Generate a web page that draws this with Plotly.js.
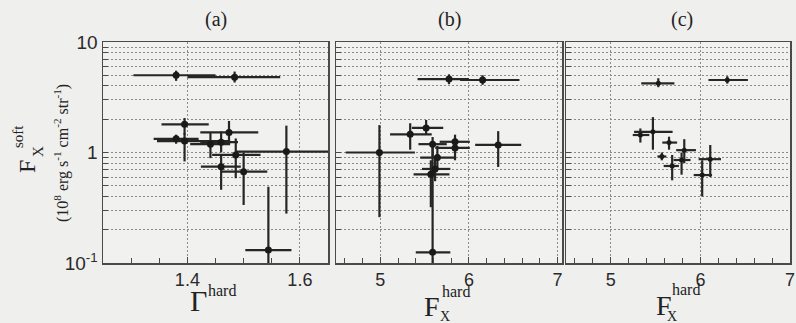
<!DOCTYPE html>
<html>
<head>
<meta charset="utf-8">
<script src="https://cdn.plot.ly/plotly-3.0.1.min.js"></script>
<style>html,body{margin:0;padding:0;background:#efefed;}#chart{width:796px;height:323px;}</style>
</head>
<body>
<div id="chart"></div>
<script>
// ---- Panel (a): Gamma_hard vs F_X^soft ----
const aGamma   = [1.380, 1.484, 1.395, 1.380, 1.395, 1.441, 1.460, 1.474, 1.486, 1.460, 1.500, 1.576, 1.544];
const aGammaLo = [1.304, 1.400, 1.354, 1.340, 1.346, 1.405, 1.423, 1.423, 1.444, 1.424, 1.461, 1.485, 1.503];
const aGammaHi = [1.450, 1.565, 1.438, 1.420, 1.476, 1.476, 1.490, 1.526, 1.530, 1.495, 1.542, 1.700, 1.585];
const aSoft    = [5.00, 4.80, 1.80, 1.33, 1.27, 1.19, 1.24, 1.52, 0.95, 0.745, 0.67, 1.02, 0.131];
const aSoftLo  = [4.45, 4.30, 1.45, 1.20, 0.83, 0.89, 1.00, 1.20, 0.585, 0.46, 0.335, 0.28, 0.05];
const aSoftHi  = [5.50, 5.40, 2.05, 1.45, 1.50, 1.50, 1.55, 1.93, 1.34, 0.95, 1.00, 1.75, 0.49];

// ---- Panel (b): F_X^hard vs F_X^soft ----
const bHard    = [5.775, 6.154, 4.99, 5.337, 5.517, 5.59, 5.843, 5.843, 5.644, 5.618, 5.57, 6.33, 5.59];
const bHardLo  = [5.42, 5.90, 4.61, 5.11, 5.356, 5.43, 5.67, 5.62, 5.45, 5.47, 5.375, 6.07, 5.40];
const bHardHi  = [6.00, 6.57, 5.39, 5.58, 5.71, 5.75, 6.01, 6.01, 5.84, 5.79, 5.78, 6.59, 5.79];
const bSoft    = [4.62, 4.53, 1.00, 1.46, 1.67, 1.19, 1.25, 1.10, 0.90, 0.71, 0.635, 1.17, 0.125];
const bSoftLo  = [4.15, 4.10, 0.26, 1.06, 1.45, 0.90, 1.10, 0.85, 0.70, 0.55, 0.32, 0.74, 0.05];
const bSoftHi  = [5.10, 5.00, 1.77, 1.84, 1.97, 1.38, 1.45, 1.25, 1.15, 0.90, 0.85, 1.56, 1.20];

// ---- Panel (c): F_X^hard vs F_X^soft ----
const cHard    = [5.53, 6.30, 5.33, 5.47, 5.65, 5.57, 5.82, 5.79, 5.685, 6.11, 6.02];
const cHardLo  = [5.34, 6.09, 5.245, 5.26, 5.575, 5.52, 5.73, 5.70, 5.59, 5.98, 5.925];
const cHardHi  = [5.71, 6.53, 5.43, 5.69, 5.74, 5.62, 5.95, 5.89, 5.76, 6.23, 6.13];
const cSoft    = [4.23, 4.53, 1.44, 1.54, 1.23, 0.92, 1.05, 0.855, 0.755, 0.87, 0.625];
const cSoftLo  = [3.90, 4.20, 1.23, 1.06, 1.06, 0.85, 0.80, 0.63, 0.56, 0.60, 0.40];
const cSoftHi  = [4.70, 4.90, 1.65, 2.09, 1.39, 1.00, 1.32, 1.00, 0.95, 1.17, 0.85];

// ---- axis tick labels ----
const yTickVals = [0.1,0.2,0.3,0.4,0.5,0.6,0.7,0.8,0.9,1,2,3,4,5,6,7,8,9,10];
const yTickText = yTickVals.map(v => v === 0.1 ? "10<sup>-1</sup>" : v === 1 ? "1" : v === 10 ? "10" : "");
const aTickVals = [1.4, 1.6];
const aTickText = ["1.4", "1.6"];
const fTickVals = [5, 6, 7];
const fTickText = ["5", "6", "7"];

const W = 796, H = 323;
const px = x => x / W, py = y => 1 - y / H;

const barColor = '#262626';
function trace(x, xlo, xhi, y, ylo, yhi, xa, ya, msize) {
  return {
    type: 'scatter', mode: 'markers', xaxis: xa, yaxis: ya,
    x: x, y: y,
    marker: {color: '#1a1a1a', size: msize},
    error_x: {type: 'data', symmetric: false,
      array: xhi.map((h, i) => h - x[i]), arrayminus: xlo.map((l, i) => x[i] - l),
      thickness: 2.2, width: 0, color: barColor},
    error_y: {type: 'data', symmetric: false,
      array: yhi.map((h, i) => h - y[i]), arrayminus: ylo.map((l, i) => y[i] - l),
      thickness: 2.2, width: 0, color: barColor},
    cliponaxis: true, hoverinfo: 'skip', showlegend: false
  };
}

const data = [
  trace(aGamma, aGammaLo, aGammaHi, aSoft, aSoftLo, aSoftHi, 'x', 'y', 7),
  trace(bHard, bHardLo, bHardHi, bSoft, bSoftLo, bSoftHi, 'x2', 'y2', 7),
  trace(cHard, cHardLo, cHardHi, cSoft, cSoftLo, cSoftHi, 'x3', 'y3', 5)
];

const yDom = [py(263), py(42)];
const lineC = '#4a4a4a', gridC = '#8a8a8a';
const tickFont = {family: 'Liberation Sans, Arial, sans-serif', size: 18, color: '#2a2a2a'};

function xaxis(dom, range, tv, tt, minorDtick, minorTick0) {
  return {
    domain: dom, range: range,
    tickmode: 'array', tickvals: tv, ticktext: tt,
    ticks: 'inside', ticklen: 6, tickwidth: 1, tickcolor: lineC,
    minor: {dtick: minorDtick, tick0: minorTick0, ticks: 'inside', ticklen: 5, tickwidth: 1, tickcolor: lineC, showgrid: false},
    showgrid: true, gridcolor: gridC, griddash: '2px,2px', gridwidth: 1,
    showline: true, linecolor: lineC, linewidth: 1.5, mirror: true,
    zeroline: false, tickfont: tickFont, fixedrange: true
  };
}
function yaxis(showLabels) {
  return {
    type: 'log', range: [-1, 1], domain: yDom,
    tickmode: 'array', tickvals: yTickVals, ticktext: yTickText,
    showticklabels: showLabels,
    ticks: 'inside', ticklen: 5, tickwidth: 1, tickcolor: lineC,
    showgrid: true, gridcolor: gridC, griddash: '2px,2px', gridwidth: 1,
    showline: true, linecolor: lineC, linewidth: 1.5, mirror: true,
    zeroline: false, tickfont: {family: 'Liberation Sans, Arial, sans-serif', size: 19, color: '#2a2a2a'},
    fixedrange: true
  };
}

const serif = 'Liberation Serif, Times New Roman, serif';
function ann(text, x, y, size, angle) {
  return {text: text, x: px(x), y: py(y), xref: 'paper', yref: 'paper',
    xanchor: 'center', yanchor: 'middle', showarrow: false, textangle: angle || 0,
    font: {family: serif, size: size, color: '#222'}};
}

const layout = {
  width: W, height: H,
  margin: {l: 0, r: 0, t: 0, b: 0},
  paper_bgcolor: '#efefed', plot_bgcolor: '#f1f1ef',
  showlegend: false,
  xaxis:  Object.assign(xaxis([px(103), px(328)], [1.25, 1.65], aTickVals, aTickText, 0.05, 1.25), {anchor: 'y'}),
  xaxis2: Object.assign(xaxis([px(336), px(562)], [4.5, 7.05], fTickVals, fTickText, 0.2, 4.4), {anchor: 'y2'}),
  xaxis3: Object.assign(xaxis([px(566), px(790)], [4.5, 7.0], fTickVals, fTickText, 0.2, 4.4), {anchor: 'y3'}),
  yaxis:  Object.assign(yaxis(true), {anchor: 'x'}),
  yaxis2: Object.assign(yaxis(false), {anchor: 'x2'}),
  yaxis3: Object.assign(yaxis(false), {anchor: 'x3'}),
  annotations: [
    ann('(a)', 216, 19, 20), ann('(b)', 449, 19, 20), ann('(c)', 682, 19, 20),
    // x titles
    ann('\u0393', 198, 300, 30), ann('hard', 222, 290, 16),
    ann('F', 432, 306, 28), ann('hard', 456, 291, 16), ann('X', 445, 316, 14),
    ann('F', 664, 305, 28), ann('hard', 686, 289, 16), ann('X', 672, 316, 14),
    // y title
    ann('F', 27, 167, 24, -90), ann('soft', 18, 137, 15, -90), ann('X', 38, 152, 15, -90),
    ann('(10<sup>8</sup> erg s<sup>-1</sup> cm<sup>-2</sup> str<sup>-1</sup>)', 62, 153, 16, -90)
  ]
};

Plotly.newPlot('chart', data, layout, {displayModeBar: false, staticPlot: true});
</script>
</body>
</html>
